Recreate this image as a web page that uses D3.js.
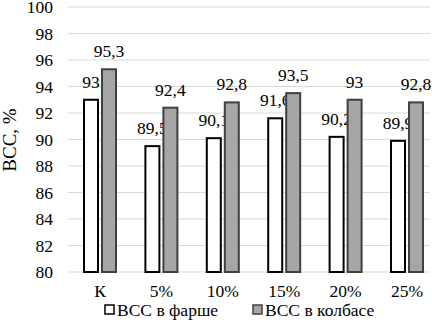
<!DOCTYPE html>
<html>
<head>
<meta charset="utf-8">
<script src="https://cdn.jsdelivr.net/npm/d3@7"></script>
<style>
  body { margin: 0; background: #fff; }
</style>
</head>
<body>
<div id="container"></div>
<script>
// Data
const categories = ["К", "5%", "10%", "15%", "20%", "25%"];
const farsh = [93, 89.5, 90.1, 91.6, 90.2, 89.9];
const kolbasa = [95.3, 92.4, 92.8, 93.5, 93, 92.8];
const seriesNames = ["ВСС в фарше", "ВСС в колбасе"];
const yTicks = [80, 82, 84, 86, 88, 90, 92, 94, 96, 98, 100];

const width = 432;
const height = 330;
const margin = { top: 7, right: 2, bottom: 58, left: 68 };
const FONT = "Liberation Serif";
const FS = 17.5;

const svg = d3
  .select("#container")
  .append("svg")
  .attr("width", width)
  .attr("height", height)
  .attr("font-family", FONT);

// band range runs a bit past the right edge, like in the original
const xScale = d3
  .scaleBand()
  .domain(categories)
  .range([69.3, 437.7]);

const yScale = d3
  .scaleLinear()
  .domain([80, 100])
  .range([height - margin.bottom, margin.top]);

const fmt = (v) => String(v).replace(".", ",");
const cx = (i) => xScale(categories[i]) + xScale.bandwidth() / 2;

// Gridlines
svg
  .append("g")
  .selectAll("line")
  .data(yTicks)
  .enter()
  .append("line")
  .attr("x1", margin.left)
  .attr("x2", width - margin.right)
  .attr("y1", (d) => yScale(d))
  .attr("y2", (d) => yScale(d))
  .attr("stroke", "#d9d9d9")
  .attr("stroke-width", 1);

// Y axis
const yAxis = d3.axisLeft(yScale).tickValues(yTicks).tickSize(0).tickPadding(15);
svg
  .append("g")
  .attr("transform", `translate(${margin.left},0)`)
  .call(yAxis)
  .attr("font-family", FONT)
  .attr("font-size", FS)
  .call((g) => g.select(".domain").remove())
  .selectAll("text")
  .attr("fill", "#000");

// X axis
const xAxis = d3.axisBottom(xScale).tickSize(0).tickPadding(13);
svg
  .append("g")
  .attr("transform", `translate(0,${height - margin.bottom})`)
  .call(xAxis)
  .attr("font-family", FONT)
  .attr("font-size", FS)
  .call((g) => g.select(".domain").remove())
  .selectAll("text")
  .attr("fill", "#000");

// Y title
svg
  .append("text")
  .attr("transform", `translate(16,140) rotate(-90)`)
  .attr("text-anchor", "middle")
  .attr("font-size", 19)
  .text("ВСС, %");

const barW = 14;

const groups = [
  { values: farsh, fill: "#ffffff", stroke: "#000000", off: -16 },
  { values: kolbasa, fill: "#a6a6a6", stroke: "#404040", off: 2 },
];

groups.forEach((s) => {
  svg
    .append("g")
    .selectAll("rect")
    .data(s.values)
    .enter()
    .append("rect")
    .attr("x", (d, i) => cx(i) + s.off)
    .attr("y", (d) => yScale(d))
    .attr("width", barW)
    .attr("height", (d) => yScale(80) - yScale(d))
    .attr("fill", s.fill)
    .attr("stroke", s.stroke)
    .attr("stroke-width", 2);

  svg
    .append("g")
    .selectAll("text")
    .data(s.values)
    .enter()
    .append("text")
    .attr("x", (d, i) => cx(i) + s.off + barW / 2)
    .attr("y", (d) => yScale(d) - 12)
    .attr("text-anchor", "middle")
    .attr("font-size", FS)
    .text((d) => fmt(d));
});

// Legend
const legend_data = [
  { text: seriesNames[0], fill: "#ffffff", stroke: "#000000", x: 105 },
  { text: seriesNames[1], fill: "#a6a6a6", stroke: "#404040", x: 253 },
];
const legend = svg.append("g").attr("id", "legend");
legend
  .selectAll("rect")
  .data(legend_data)
  .enter()
  .append("rect")
  .attr("x", (d) => d.x)
  .attr("y", 305)
  .attr("width", 9)
  .attr("height", 9)
  .attr("fill", (d) => d.fill)
  .attr("stroke", (d) => d.stroke)
  .attr("stroke-width", 1.5);
legend
  .selectAll("text")
  .data(legend_data)
  .enter()
  .append("text")
  .attr("x", (d) => d.x + 12)
  .attr("y", 316)
  .attr("font-size", FS)
  .text((d) => d.text);
</script>
</body>
</html>
